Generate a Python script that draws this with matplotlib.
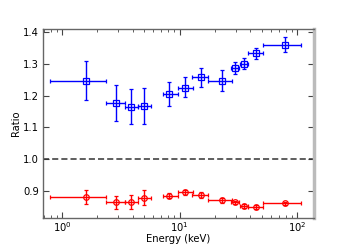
import numpy as np
import matplotlib
matplotlib.use('Agg')
import matplotlib.pyplot as plt

# energy bins (keV): centre, low edge, high edge
energy = [1.6, 2.89, 3.89, 4.95, 8.1, 11.2, 15.3, 22.8, 29.4, 35.1, 44.7, 79.0]
e_lo = [0.79, 2.39, 3.42, 4.43, 7.22, 9.7, 12.8, 17.5, 27.4, 32.4, 38.5, 50.8]
e_hi = [2.39, 3.42, 4.43, 5.68, 9.7, 12.9, 17.5, 27.9, 31.8, 37.9, 51.5, 107.0]

# blue series: ratio, lower, upper
blue = [1.247, 1.178, 1.165, 1.168, 1.204, 1.225, 1.259, 1.247, 1.286, 1.299, 1.334, 1.360]
blue_lo = [1.185, 1.120, 1.110, 1.110, 1.166, 1.194, 1.228, 1.215, 1.268, 1.283, 1.315, 1.337]
blue_hi = [1.310, 1.232, 1.220, 1.223, 1.242, 1.257, 1.288, 1.279, 1.306, 1.317, 1.351, 1.383]

# red series
red = [0.879, 0.864, 0.864, 0.878, 0.885, 0.896, 0.887, 0.870, 0.863, 0.852, 0.850, 0.860]
red_lo = [0.857, 0.842, 0.842, 0.854, 0.877, 0.888, 0.878, 0.861, 0.857, 0.845, 0.844, 0.854]
red_hi = [0.902, 0.884, 0.887, 0.901, 0.894, 0.903, 0.895, 0.878, 0.869, 0.858, 0.856, 0.866]

energy = np.array(energy)
xerr = [energy - np.array(e_lo), np.array(e_hi) - energy]

fig = plt.figure(figsize=(3.5, 2.45), dpi=100)
ax = fig.add_axes([0.123, 0.110, 0.774, 0.772])

def plot_series(y, lo, hi, color, marker):
    y = np.array(y)
    yerr = [y - np.array(lo), np.array(hi) - y]
    ax.errorbar(energy, y, xerr=xerr, yerr=yerr, fmt=marker, color=color,
                mfc='none', mec=color, ms=4, mew=0.9, elinewidth=1.0,
                capsize=1.5, capthick=0.8)

plot_series(blue, blue_lo, blue_hi, 'b', 's')
plot_series(red, red_lo, red_hi, 'r', 'o')

ax.axhline(1.0, color='#333333', lw=1.1, ls=(0, (4, 2)))

ax.set_xscale('log')
ax.set_xlim(0.69, 139)
ax.set_ylim(0.814, 1.41)
ax.set_yticks([0.9, 1.0, 1.1, 1.2, 1.3, 1.4])

ax.tick_params(which='both', direction='in', top=True, right=True,
               labelsize=7.2, color='#444444')
ax.tick_params(axis='x', pad=1.5)
ax.tick_params(axis='y', pad=3)
ax.tick_params(which='major', length=4)
ax.tick_params(which='minor', length=2)

for side in ['left', 'top', 'bottom']:
    ax.spines[side].set_color('#666666')
    ax.spines[side].set_linewidth(1.0)
ax.spines['right'].set_color('#bbbbbb')
ax.spines['right'].set_linewidth(2.5)

ax.set_xlabel('Energy (keV)', fontsize=7.2, labelpad=0)
ax.set_ylabel('Ratio', fontsize=7.2, labelpad=1)

fig.savefig('out.png', dpi=100)
